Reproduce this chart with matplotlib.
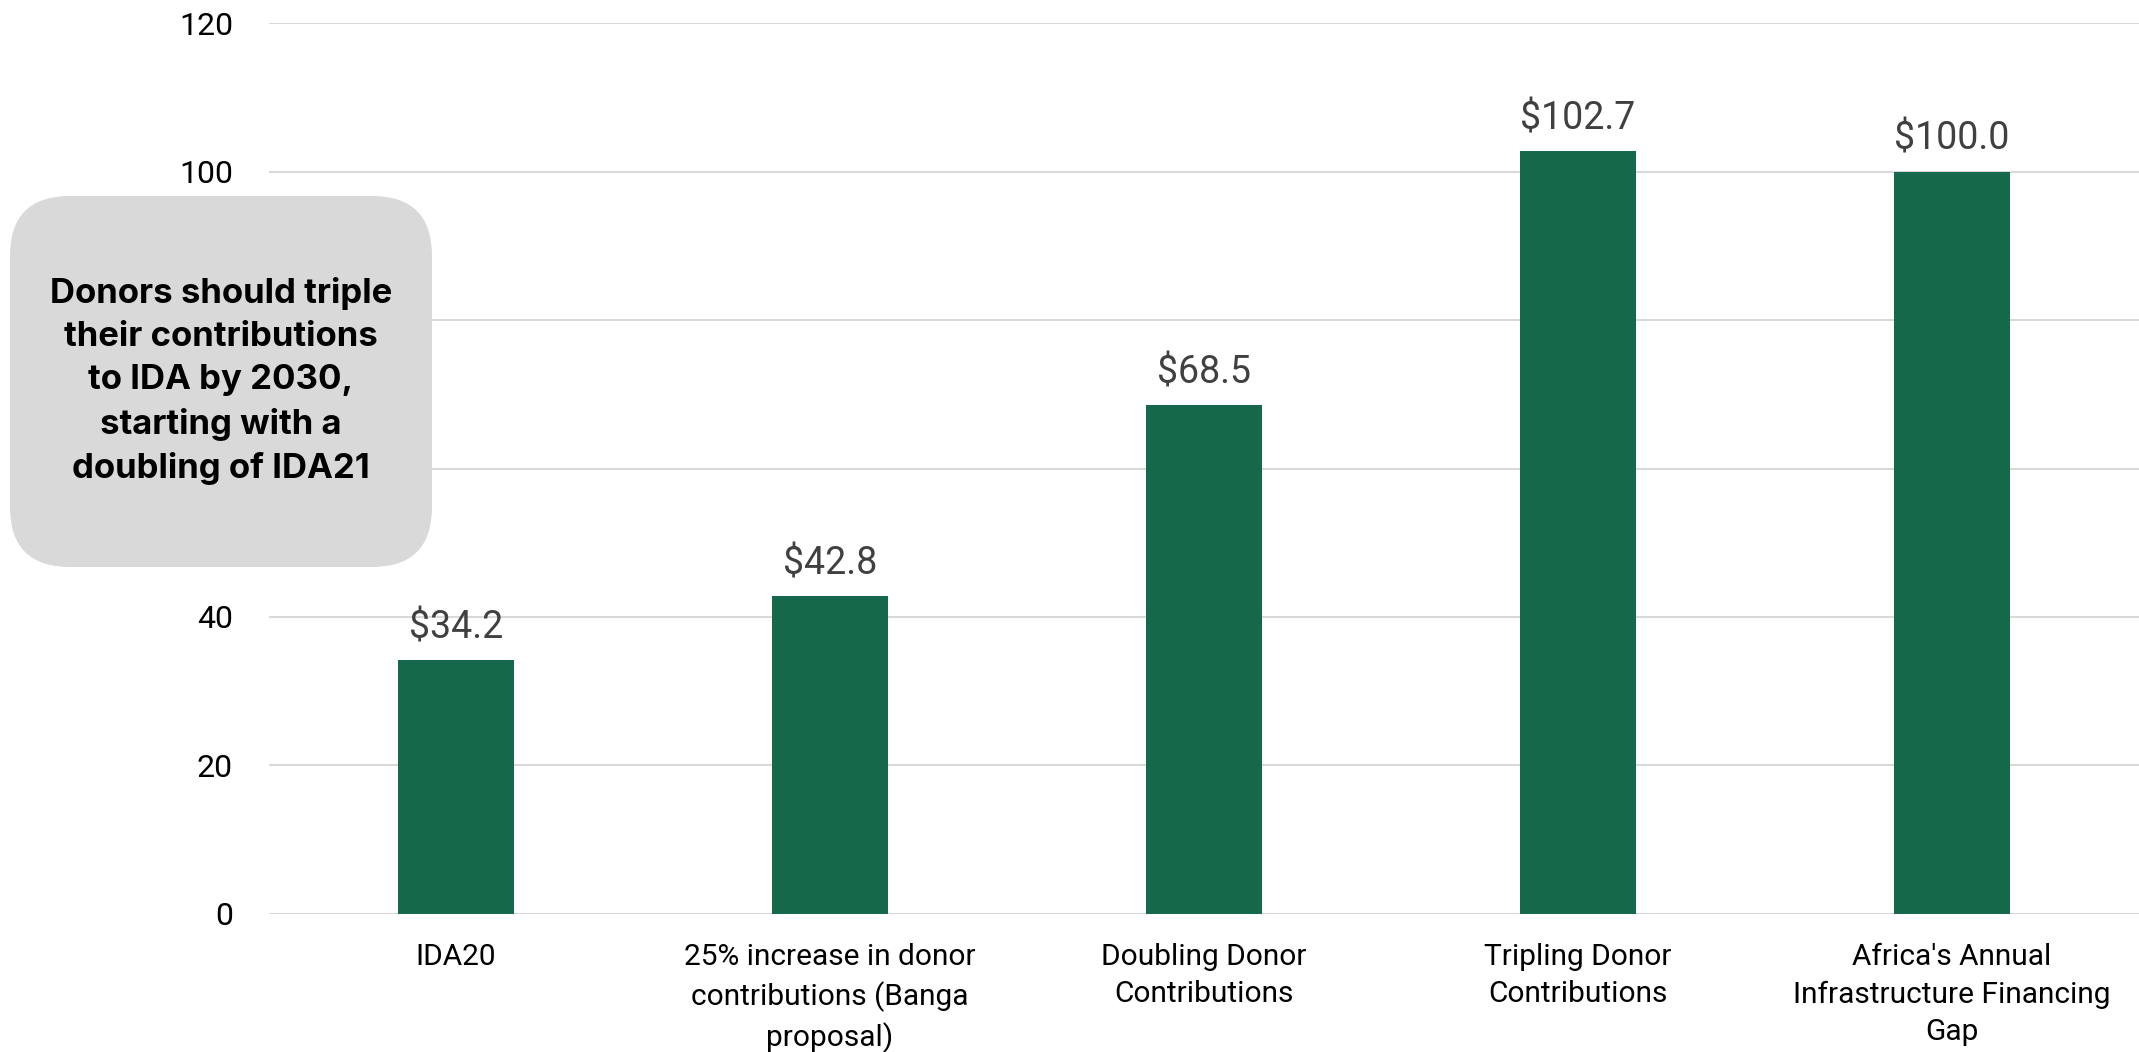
import matplotlib
matplotlib.use("Agg")
import matplotlib.pyplot as plt
from matplotlib.patches import FancyBboxPatch

# Data ------------------------------------------------------------------------
categories = [
    "IDA20",
    "25% increase in donor\ncontributions (Banga\nproposal)",
    "Doubling Donor\nContributions",
    "Tripling Donor\nContributions",
    "Africa's Annual\nInfrastructure Financing\nGap",
]
values = [34.2, 42.8, 68.5, 102.7, 100.0]
yticks = [0, 20, 40, 60, 80, 100, 120]
# 60 and 80 sit behind the callout box, so they are not visible
ytick_labels = ["0", "20", "40", "", "", "100", "120"]
note = "Donors should triple\ntheir contributions\nto IDA by 2030,\nstarting with a\ndoubling of IDA21"

bar_color = "#15694A"
grid_color = "#D9D9D9"

# Plot ------------------------------------------------------------------------
fig = plt.figure(figsize=(21.39, 10.52), dpi=100)
ax = fig.add_axes([0.1258, 0.1312, 0.8742, 0.8469])

x = list(range(len(categories)))
ax.bar(x, values, width=0.31, color=bar_color, zorder=3)

for xi, v in zip(x, values):
    ax.annotate(f"${v:.1f}", (xi, v), xytext=(0, 10), textcoords="offset points",
                ha="center", va="bottom", fontsize=27, color="#404040",
                family="Roboto")

ax.set_xlim(-0.5, len(categories) - 0.5)
ax.set_ylim(0, 120)
ax.set_yticks(yticks)
ax.set_yticklabels(ytick_labels, fontsize=23, family="Roboto")
ax.set_xticks(x)
ax.set_xticklabels(categories, fontsize=21.5, family="Roboto", linespacing=1.42,
                   va="top")
ax.tick_params(axis="y", length=0, pad=26)
ax.tick_params(axis="x", length=0, pad=21)

ax.grid(axis="y", color=grid_color, linewidth=1.5, zorder=0)
for s in ax.spines.values():
    s.set_visible(False)

# Callout box -----------------------------------------------------------------
box = FancyBboxPatch((0.10, 4.85), 4.22, 3.71,
                     boxstyle="round,pad=0,rounding_size=0.6",
                     transform=fig.dpi_scale_trans, facecolor="#D9D9D9",
                     edgecolor="none", zorder=5)
fig.patches.append(box)
fig.text(2.21, 6.71, note, transform=fig.dpi_scale_trans, ha="center",
         va="center", fontsize=25, fontweight="bold", family="Inter",
         linespacing=1.45, color="black", zorder=6)

fig.savefig("out.png", dpi=100)
